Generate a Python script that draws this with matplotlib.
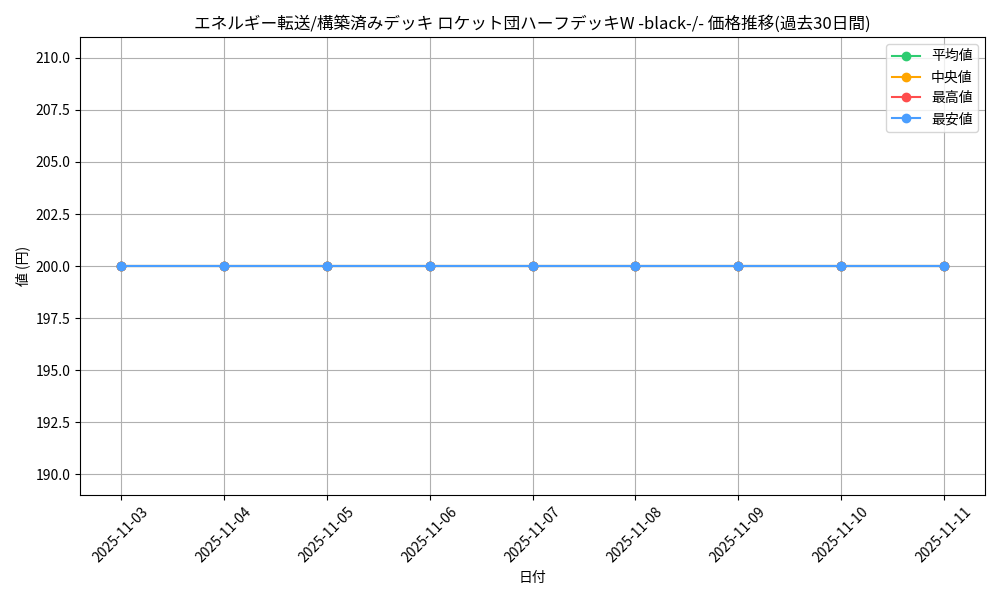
import matplotlib
matplotlib.use('Agg')
import matplotlib.pyplot as plt
import pandas as pd

plt.rcParams['font.family'] = ['Noto Sans CJK JP', 'DejaVu Sans']

dates = ['2025-11-03', '2025-11-04', '2025-11-05', '2025-11-06', '2025-11-07',
         '2025-11-08', '2025-11-09', '2025-11-10', '2025-11-11']
avg_prices = [200, 200, 200, 200, 200, 200, 200, 200, 200]
median_prices = [200, 200, 200, 200, 200, 200, 200, 200, 200]
max_prices = [200, 200, 200, 200, 200, 200, 200, 200, 200]
min_prices = [200, 200, 200, 200, 200, 200, 200, 200, 200]

title = 'エネルギー転送/構築済みデッキ ロケット団ハーフデッキW -black-/- 価格推移(過去30日間)'

x = pd.to_datetime(dates)

fig, ax = plt.subplots(figsize=(10, 6), dpi=100)
ax.plot(x, avg_prices, marker='o', color='#2ecc71', label='平均値')
ax.plot(x, median_prices, marker='o', color='#ffa500', label='中央値')
ax.plot(x, max_prices, marker='o', color='#ff4d4d', label='最高値')
ax.plot(x, min_prices, marker='o', color='#4a9eff', label='最安値')

ax.set_title(title)
ax.set_xlabel('日付')
ax.set_ylabel('値 (円)')
ax.set_xticks(x)
ax.set_xticklabels(dates, rotation=45)
ax.grid(True)
ax.legend(loc='upper right')

plt.tight_layout()
plt.savefig('out.png')
